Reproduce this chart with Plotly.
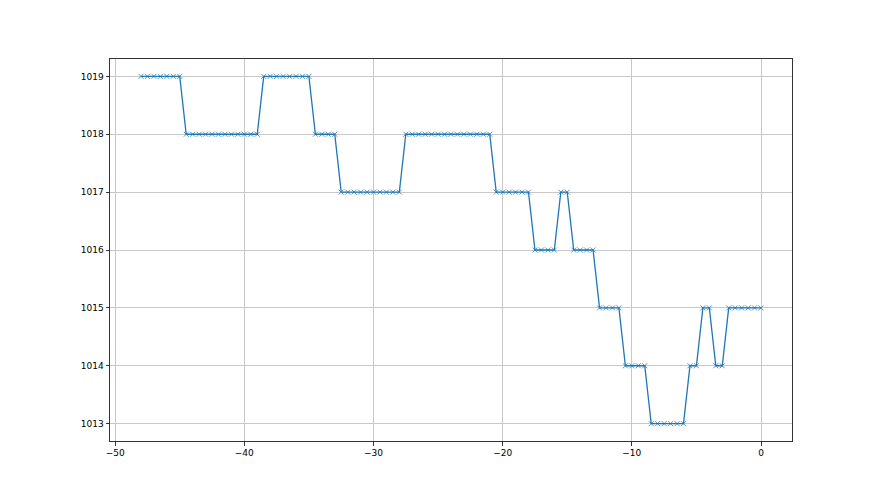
import plotly.graph_objects as go

x_vals = [
    -48.0, -47.5, -47.0, -46.5, -46.0, -45.5, -45.0,
    -44.5, -44.0, -43.5, -43.0, -42.5, -42.0, -41.5, -41.0, -40.5, -40.0, -39.5, -39.0,
    -38.5, -38.0, -37.5, -37.0, -36.5, -36.0, -35.5, -35.0,
    -34.5, -34.0, -33.5, -33.0,
    -32.5, -32.0, -31.5, -31.0, -30.5, -30.0, -29.5, -29.0, -28.5, -28.0,
    -27.5, -27.0, -26.5, -26.0, -25.5, -25.0, -24.5, -24.0, -23.5, -23.0, -22.5, -22.0, -21.5, -21.0,
    -20.5, -20.0, -19.5, -19.0, -18.5, -18.0,
    -17.5, -17.0, -16.5, -16.0,
    -15.5, -15.0,
    -14.5, -14.0, -13.5, -13.0,
    -12.5, -12.0, -11.5, -11.0,
    -10.5, -10.0, -9.5, -9.0,
    -8.5, -8.0, -7.5, -7.0, -6.5, -6.0,
    -5.5, -5.0,
    -4.5, -4.0,
    -3.5, -3.0,
    -2.5, -2.0, -1.5, -1.0, -0.5, 0.0,
]

pressure = (
    [1019] * 7 + [1018] * 12 + [1019] * 8 + [1018] * 4 + [1017] * 10 +
    [1018] * 14 + [1017] * 6 + [1016] * 4 + [1017] * 2 + [1016] * 4 +
    [1015] * 4 + [1014] * 4 + [1013] * 6 + [1014] * 2 + [1015] * 2 +
    [1014] * 2 + [1015] * 6
)

x_ticks = [-50, -40, -30, -20, -10, 0]
y_ticks = [1013, 1014, 1015, 1016, 1017, 1018, 1019]

fig = go.Figure()
fig.add_trace(go.Scatter(
    x=x_vals, y=pressure, mode="lines+markers",
    line=dict(color="#1f77b4", width=1.3),
    marker=dict(symbol="x-thin", size=5, line=dict(color="rgba(31,119,180,0.75)", width=1), color="#1f77b4"),
    showlegend=False,
))

axis_common = dict(
    showgrid=True, gridcolor="#c8c8c8", gridwidth=0.8,
    showline=True, linecolor="#333333", linewidth=1, mirror=True,
    ticks="outside", ticklen=3.5, tickcolor="#333333", tickwidth=0.8,
    zeroline=False,
    tickfont=dict(family="DejaVu Sans", size=9, color="black"),
)

fig.update_layout(
    width=880, height=495,
    margin=dict(l=102, r=96, t=51, b=62),
    paper_bgcolor="white", plot_bgcolor="white",
    xaxis=dict(range=[-50.4, 2.4], tickvals=x_ticks, **axis_common),
    yaxis=dict(range=[1012.7, 1019.3], tickvals=y_ticks, **axis_common),
)

fig.write_html("out.html")
